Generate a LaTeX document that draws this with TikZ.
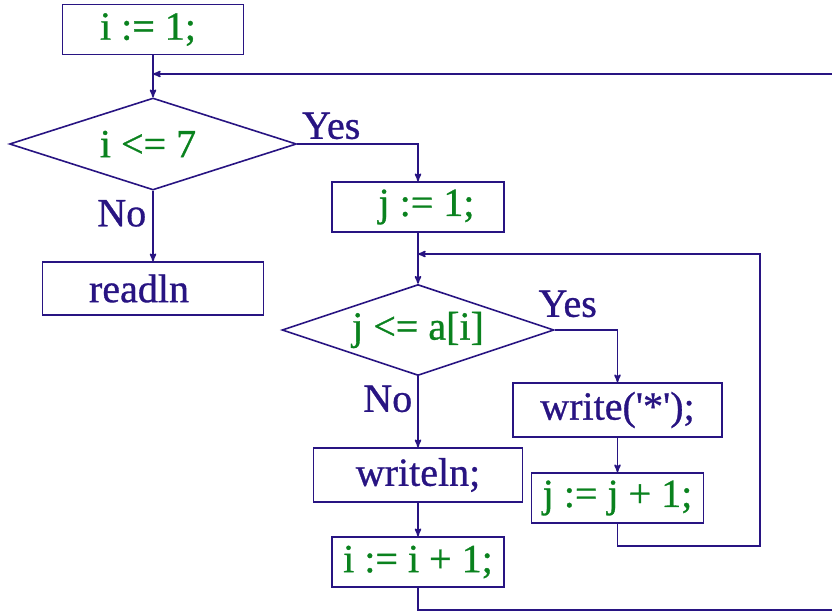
\documentclass[tikz,border=0pt]{standalone}
\usepackage{fontspec}
\setmainfont{Liberation Serif}[FakeBold=0.8]
\usetikzlibrary{arrows,shapes.geometric,positioning}
\definecolor{navy}{RGB}{40,20,130}
\definecolor{code}{RGB}{10,130,30}

\begin{document}
\begin{tikzpicture}[x=1pt, y=-1pt, >=stealth', line width=1.6pt, color=navy,
	font=\fontsize{40}{48}\selectfont,
	box/.style={draw, rectangle, inner sep=0pt, minimum height=50pt},
	cond/.style={draw, diamond, aspect=3, inner sep=0pt},
	lbl/.style={inner sep=0pt}]
	\useasboundingbox (0,0) rectangle (832,613);

	% Nodes {outer loop}
	\node [box, text=code, minimum width=181pt]	(i1)		at (153,29.5)	{i := 1;\hspace*{10pt}};
	\node [cond, text=code, minimum width=287pt, minimum height=92pt]	(d1)	at (153,144)	{i <= 7\hspace*{10pt}};
	\node [box, minimum width=221pt, minimum height=53pt]	(readln)	at (153,288.5)	{readln\hspace*{28pt}};
	\node [box, text=code, minimum width=172pt]	(j1)		at (418,207)	{\hspace*{17pt}j := 1;};

	% Nodes {inner loop}
	\node [cond, text=code, minimum width=272pt, minimum height=91pt]	(d2)	at (418,330)	{j <= a[i]};
	\node [box, minimum width=209pt, minimum height=54pt]	(write)		at (617.5,410)	{write(\textquotesingle*\textquotesingle);};
	\node [box, text=code, minimum width=172pt]	(jinc)		at (617.5,498)	{j := j + 1;};
	\node [box, minimum width=209pt, minimum height=54pt]	(writeln)	at (418,475)	{writeln;};
	\node [box, text=code, minimum width=172pt]	(iinc)		at (418,562)	{i := i + 1;};

	% Labels
	\node [lbl, above right=4pt and 4pt of d1.east]		(yes1)	{Yes};
	\node [lbl, below left=8.5pt and 6pt of d1.south]	(no1)	{No};
	\node [lbl, above right=12pt and -17pt of d2.east]	(yes2)	{Yes};
	\node [lbl, below left=8.5pt and 5pt of d2.south]	(no2)	{No};

	% Loop points
	\coordinate (mi) at (153,74);
	\coordinate (ri) at (834,610);
	\coordinate (mj) at (418,254);
	\coordinate (rj) at (760,546);

	% Paths for outer loop
	\draw [->]	(i1) -- (d1);
	\draw [->]	(d1) -- (readln);
	\draw [->]	(d1.east) -| (j1.north);
	\draw [->]	(j1) -- (d2);
	\draw [->]	(iinc.south) |- (ri) |- (mi);

	% Paths for inner loop
	\draw [->]	(d2.east) -| (write.north);
	\draw [->]	(write) -- (jinc);
	\draw [->]	(jinc.south) |- (rj) |- (mj);
	\draw [->]	(d2) -- (writeln);
	\draw [->]	(writeln) -- (iinc);
\end{tikzpicture}
\end{document}
